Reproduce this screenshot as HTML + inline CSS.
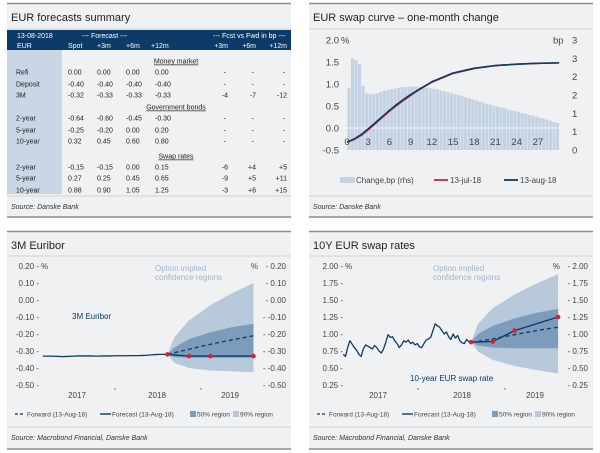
<!DOCTYPE html>
<html><head><meta charset="utf-8">
<style>
html,body{margin:0;padding:0;background:#fff;}
svg{display:block;font-family:"Liberation Sans",sans-serif;}
</style></head>
<body>
<svg id="root" width="600" height="453" viewBox="0 0 600 453" xmlns="http://www.w3.org/2000/svg">
<g>
<rect x="7" y="4" width="284" height="213" fill="#f0f1f3"/>
<rect x="309" y="4" width="284" height="213" fill="#f0f1f3"/>
<rect x="7" y="232" width="284" height="217" fill="#f0f1f3"/>
<rect x="309" y="232" width="284" height="217" fill="#f0f1f3"/>
<g stroke="#8a8d91" stroke-width="1.5">
<line x1="7" y1="3.5" x2="291" y2="3.5"/><line x1="7" y1="217" x2="291" y2="217"/>
<line x1="309" y1="3.5" x2="593" y2="3.5"/><line x1="309" y1="217" x2="593" y2="217"/>
<line x1="7" y1="231.5" x2="291" y2="231.5"/><line x1="7" y1="449" x2="291" y2="449"/>
<line x1="309" y1="231.5" x2="593" y2="231.5"/><line x1="309" y1="449" x2="593" y2="449"/>
</g>
<g stroke="#c4c7cb" stroke-width="0.8">
<line x1="7" y1="29" x2="291" y2="29"/><line x1="7" y1="196" x2="291" y2="196"/>
<line x1="309" y1="29" x2="593" y2="29"/><line x1="309" y1="196" x2="593" y2="196"/>
<line x1="7" y1="256" x2="291" y2="256"/><line x1="7" y1="427" x2="291" y2="427"/>
<line x1="309" y1="256" x2="593" y2="256"/><line x1="309" y1="427" x2="593" y2="427"/>
</g>
</g>
<g font-size="11" fill="#222">
<text x="11" y="21">EUR forecasts summary</text>
<text x="313" y="21">EUR swap curve – one-month change</text>
<text x="11" y="249">3M Euribor</text>
<text x="313" y="249">10Y EUR swap rates</text>
</g>
<g font-size="7" font-style="italic" fill="#333">
<text x="11" y="209">Source: Danske Bank</text>
<text x="313" y="209">Source: Danske Bank</text>
<text x="11" y="440">Source: Macrobond Financial, Danske Bank</text>
<text x="313" y="440">Source: Macrobond Financial, Danske Bank</text>
</g>
<g id="table"></g>
<g id="curve"></g>
<g id="eur3m"></g>
<g id="swap10"></g>
</svg>
<script>
const barTenors = [0.5,1,1.5,2,2.5,3,3.5,4,4.5,5,5.5,6,6.5,7,7.5,8,8.5,9,9.5,10,10.5,11,11.5,12,12.5,13,13.5,14,14.5,15,15.5,16,16.5,17,17.5,18,18.5,19,19.5,20,20.5,21,21.5,22,22.5,23,23.5,24,24.5,25,25.5,26,26.5,27,27.5,28,28.5,29,29.5,30];
const changeBp = [1.70,2.50,2.45,2.35,1.75,1.55,1.52,1.53,1.55,1.58,1.62,1.63,1.66,1.68,1.70,1.72,1.71,1.73,1.74,1.73,1.72,1.71,1.70,1.68,1.67,1.65,1.62,1.60,1.57,1.55,1.52,1.50,1.47,1.44,1.41,1.38,1.35,1.32,1.29,1.26,1.24,1.21,1.19,1.16,1.14,1.11,1.09,1.06,1.04,1.01,0.99,0.96,0.94,0.91,0.88,0.86,0.83,0.80,0.77,0.74];
const curveTenors = [0,1,2,3,4,5,6,7,8,9,10,12,15,18,21,24,27,30];
const curveAug = [-0.32,-0.25,-0.15,-0.02,0.12,0.26,0.40,0.53,0.65,0.76,0.86,1.05,1.25,1.36,1.42,1.45,1.47,1.48];
const curveJul = [-0.32,-0.26,-0.17,-0.04,0.10,0.24,0.38,0.51,0.63,0.74,0.85,1.04,1.24,1.35,1.42,1.45,1.47,1.48];
const curveLeftTicks = ["2.0","1.5","1.0","0.5","0.0","-0.5"];
const curveLeftVals = [2,1.5,1,0.5,0,-0.5];
const curveRightTicks = ["3","3","2","2","1","1","0"];
const curveRightVals = [3,2.5,2,1.5,1,0.5,0];
const curveXTicks = [0,3,6,9,12,15,18,21,24,27];

const eurHistStart = 2017.16, eurHistEnd = 2018.61;
const eurHist = [-0.33,-0.33,-0.33,-0.331,-0.332,-0.333,-0.332,-0.331,-0.33,-0.329,-0.329,-0.329,-0.329,-0.33,-0.33,-0.329,-0.329,-0.329,-0.328,-0.328,-0.328,-0.328,-0.327,-0.327,-0.327,-0.326,-0.325,-0.323,-0.321,-0.32,-0.32,-0.319];
const fanT = [2018.61,2018.69,2018.86,2019.11,2019.36,2019.61];
const eur90Top = [-0.32,-0.22,-0.12,-0.03,0.04,0.10];
const eur90Bot = [-0.32,-0.37,-0.40,-0.415,-0.42,-0.425];
const eur50Top = [-0.32,-0.28,-0.23,-0.19,-0.16,-0.14];
const eur50Bot = [-0.32,-0.335,-0.34,-0.34,-0.34,-0.34];
const eurFwd = [-0.32,-0.31,-0.29,-0.26,-0.235,-0.21];
const fcT = [2018.61,2018.86,2019.11,2019.61];
const eurFc = [-0.32,-0.33,-0.33,-0.33];
const eurTicks = ["0.20","0.10","0.00","-0.10","-0.20","-0.30","-0.40","-0.50"];
const eurTickVals = [0.2,0.1,0,-0.1,-0.2,-0.3,-0.4,-0.5];

const swapHistStart = 2017.14, swapHistEnd = 2018.61;
const swapHist = [0.70,0.67,0.80,0.90,0.85,0.80,0.76,0.70,0.67,0.78,0.84,0.82,0.80,0.78,0.83,0.80,0.75,0.72,0.78,0.88,0.99,0.95,0.96,0.90,0.86,0.80,0.84,0.90,0.88,0.91,0.86,0.88,0.84,0.86,0.81,0.80,0.86,0.91,0.93,0.95,1.05,1.15,1.12,1.10,1.05,1.00,1.03,0.96,0.92,1.00,0.94,0.98,0.90,0.87,0.86,0.92,0.89,0.88];
const sw90Top = [0.88,1.15,1.38,1.58,1.74,1.88];
const sw90Bot = [0.88,0.74,0.62,0.53,0.47,0.42];
const sw50Top = [0.88,1.00,1.12,1.23,1.31,1.37];
const sw50Bot = [0.88,0.83,0.80,0.79,0.79,0.79];
const swFwd = [0.88,0.89,0.93,0.99,1.05,1.10];
const swFc = [0.88,0.89,1.05,1.25];
const swTicks = ["2.00","1.75","1.50","1.25","1.00","0.75","0.50","0.25"];
const swTickVals = [2,1.75,1.5,1.25,1,0.75,0.5,0.25];

const tableRows = [
 {sec:"Money market"},
 {l:"Refi",v:["0.00","0.00","0.00","0.00"],f:["-","-","-"]},
 {l:"Deposit",v:["-0.40","-0.40","-0.40","-0.40"],f:["-","-","-"]},
 {l:"3M",v:["-0.32","-0.33","-0.33","-0.33"],f:["-4","-7","-12"]},
 {sec:"Government bonds"},
 {l:"2-year",v:["-0.64","-0.60","-0.45","-0.30"],f:["-","-","-"]},
 {l:"5-year",v:["-0.25","-0.20","0.00","0.20"],f:["-","-","-"]},
 {l:"10-year",v:["0.32","0.45","0.60","0.80"],f:["-","-","-"]},
 {sec:"Swap rates"},
 {l:"2-year",v:["-0.15","-0.15","0.00","0.15"],f:["-6","+4","+5"]},
 {l:"5-year",v:["0.27","0.25","0.45","0.65"],f:["-9","+5","+11"]},
 {l:"10-year",v:["0.88","0.90","1.05","1.25"],f:["-3","+6","+15"]}
];
const rowY = [61,72,84,95,107,118,130,141,156,167,178,190];

const NS="http://www.w3.org/2000/svg";
function mk(parent,tag,attrs,txt){const e=document.createElementNS(NS,tag);for(const k in attrs)e.setAttribute(k,attrs[k]);if(txt!==undefined)e.textContent=txt;parent.appendChild(e);return e;}

(function(){
 const g=document.getElementById('table');
 const hb=mk(g,'rect',{x:7,y:30,width:284,height:20,fill:'#0b3b66'});
 
 
 mk(g,'rect',{x:7,y:50,width:55,height:144,fill:'#c9d6e4'});
 const hs={fill:'#fff','font-size':'7'};
 mk(g,'text',Object.assign({x:17,y:38},hs),'13-08-2018');
 mk(g,'text',Object.assign({x:82,y:38},hs),'--- Forecast ---');
 mk(g,'text',Object.assign({x:213,y:38},hs),'--- Fcst vs Fwd in bp ---');
 mk(g,'text',Object.assign({x:17,y:48},hs),'EUR');
 const hcols=[["Spot",68],["+3m",97],["+6m",126],["+12m",151]];
 hcols.forEach(c=>mk(g,'text',Object.assign({x:c[1],y:48},hs),c[0]));
 const fx=[228,256,287];
 ["+3m","+6m","+12m"].forEach((c,i)=>mk(g,'text',Object.assign({x:fx[i],y:48,'text-anchor':'end'},hs),c));
 const vx=[68,97,126,155];
 tableRows.forEach((r,i)=>{
  const y=rowY[i]+2.5;
  if(r.sec){const t=mk(g,'text',{x:176,y:y,'font-size':'7',fill:'#222','text-anchor':'middle','text-decoration':'underline'},r.sec);
   
   return;}
  const row=mk(g,'g',{});
  
  
  mk(row,'text',{x:16,y:y,'font-size':'7',fill:'#222'},r.l);
  r.v.forEach((v,j)=>mk(row,'text',{x:vx[j],y:y,'font-size':'7',fill:'#222'},v));
  r.f.forEach((v,j)=>mk(row,'text',{x:fx[j]-(v==='-'?2:0),y:y,'font-size':'7',fill:'#222','text-anchor':'end'},v));
 });
})();

(function(){
 const g=document.getElementById('curve');
 const X=t=>347+t*7.07, YL=v=>128-44*v, YR=v=>150-36.67*v;
 for(let i=0;i<barTenors.length;i++){
  const b=mk(g,'rect',{x:X(barTenors[i])-3.1,y:YR(changeBp[i]),width:3.1,height:150-YR(changeBp[i]),fill:'#c4d3e3'});
  
  
 }
 mk(g,'line',{x1:345,y1:128,x2:560,y2:128,stroke:'#fff','stroke-width':0.8});
 curveLeftVals.forEach((v,i)=>{const t=mk(g,'text',{x:339,y:YL(v)+3.5,'font-size':'9.5',fill:'#444','text-anchor':'end'},curveLeftTicks[i]);
  });
 mk(g,'text',{x:341,y:YL(2)+3.5,'font-size':'9.5',fill:'#444'},'%');
 curveRightVals.forEach((v,i)=>{const t=mk(g,'text',{x:572,y:YR(v)+3.5,'font-size':'9.5',fill:'#444','text-anchor':'start'},curveRightTicks[i]);
  });
 mk(g,'text',{x:553,y:YR(3)+3.5,'font-size':'9.5',fill:'#444'},'bp');
 curveXTicks.forEach(v=>{const t=mk(g,'text',{x:X(v),y:145,'font-size':'9.5',fill:'#444','text-anchor':'middle'},String(v));
  });
 const pj=curveTenors.map((t,i)=>X(t)+','+YL(curveJul[i])).join(' ');
 const pa=curveTenors.map((t,i)=>X(t)+','+YL(curveAug[i])).join(' ');
 const l1=mk(g,'polyline',{points:pj,fill:'none',stroke:'#d2232a','stroke-width':1.6,'stroke-linejoin':'round'});
 
 const l2=mk(g,'polyline',{points:pa,fill:'none',stroke:'#0b3b66','stroke-width':1.6,'stroke-linejoin':'round'});
 
 const lg=mk(g,'g',{});
 mk(lg,'rect',{x:340,y:177,width:15,height:6,fill:'#c4d3e3'});
 mk(lg,'text',{x:356,y:183,'font-size':'8',fill:'#444'},'Change,bp (rhs)');
 mk(lg,'line',{x1:434,y1:180,x2:448,y2:180,stroke:'#d2232a','stroke-width':1.8});
 mk(lg,'text',{x:450,y:183,'font-size':'8',fill:'#444'},'13-jul-18');
 mk(lg,'line',{x1:504,y1:180,x2:518,y2:180,stroke:'#0b3b66','stroke-width':1.8});
 mk(lg,'text',{x:520,y:183,'font-size':'8',fill:'#444'},'13-aug-18');
})();

function fan(gid,cfg){
 const g=document.getElementById(gid);
 const X=t=>cfg.x0+cfg.xs*(t-2018), Y=cfg.Y;
 cfg.tickVals.forEach(v=>mk(g,'line',{x1:cfg.px0,y1:Y(v),x2:cfg.px1,y2:Y(v),stroke:'#fff','stroke-width':0.6,'stroke-dasharray':'1,1'}));
 function band(top,bot,color,name){
  const pts=fanT.map((t,i)=>X(t)+','+Y(top[i])).concat(fanT.slice().reverse().map((t,k)=>X(t)+','+Y(bot[fanT.length-1-k])));
  const p=mk(g,'polygon',{points:pts.join(' '),fill:color});
  
 }
 band(cfg.t90,cfg.b90,'#b8c9dc','region-90');
 band(cfg.t50,cfg.b50,'#7d9bbb','region-50');
 cfg.tickVals.forEach((v,i)=>{
  const a=mk(g,'text',{x:cfg.lx,y:Y(v)+3,'font-size':'8',fill:'#444','text-anchor':'end'},cfg.ticks[i]+' -');
  
  const b=mk(g,'text',{x:cfg.rx,y:Y(v)+3,'font-size':'8',fill:'#444','text-anchor':'end'},'- '+cfg.ticks[i]);
  
 });
 mk(g,'text',{x:cfg.lx+2,y:Y(cfg.tickVals[0])+3,'font-size':'8',fill:'#444'},'%');
 mk(g,'text',{x:cfg.rx-28,y:Y(cfg.tickVals[0])+3,'font-size':'8',fill:'#444','text-anchor':'end'},'%');
 const h=cfg.hist, n=h.length;
 const hp=h.map((v,i)=>X(cfg.hs+(cfg.he-cfg.hs)*i/(n-1))+','+Y(v)).join(' ');
 const hl=mk(g,'polyline',{points:hp,fill:'none',stroke:'#0b3b66','stroke-width':1.3,'stroke-linejoin':'round'});
 
 const fw=mk(g,'polyline',{points:fanT.map((t,i)=>X(t)+','+Y(cfg.fwd[i])).join(' '),fill:'none',stroke:'#0b3b66','stroke-width':1.3,'stroke-dasharray':'4,3'});
 
 const fc=mk(g,'polyline',{points:fcT.map((t,i)=>X(t)+','+Y(cfg.fc[i])).join(' '),fill:'none',stroke:'#0b3b66','stroke-width':1.4});
 
 fcT.forEach((t,i)=>{const c=mk(g,'circle',{cx:X(t),cy:Y(cfg.fc[i]),r:2.3,fill:'#d2232a'});
  });
 [[2017,cfg.yl[0]],[2018,cfg.yl[1]],[2019,cfg.yl[2]]].forEach(a=>{const t=mk(g,'text',{x:a[1],y:cfg.yearY,'font-size':'8',fill:'#444','text-anchor':'middle'},String(a[0]));
  });
 [2018,2019].forEach(yr=>mk(g,'line',{x1:X(yr),y1:cfg.yearY-10,x2:X(yr),y2:cfg.yearY-8,stroke:'#555','stroke-width':0.8}));
 mk(g,'text',{x:cfg.optX,y:271,'font-size':'8',fill:'#9fb6cf'},'Option implied');
 mk(g,'text',{x:cfg.optX,y:280,'font-size':'8',fill:'#9fb6cf'},'confidence regions');
 mk(g,'text',{x:cfg.nameX,y:cfg.nameY,'font-size':'8',fill:'#0b3b66'},cfg.name);
 const o=cfg.legX, ly=414;
 const lg=mk(g,'g',{});
 mk(lg,'line',{x1:o,y1:ly,x2:o+10,y2:ly,stroke:'#0b3b66','stroke-width':1.2,'stroke-dasharray':'3,2'});
 mk(lg,'text',{x:o+12,y:ly+2.5,'font-size':'6.5',fill:'#444'},'Forward (13-Aug-18)');
 mk(lg,'line',{x1:o+85,y1:ly,x2:o+96,y2:ly,stroke:'#0b3b66','stroke-width':1.4});
 mk(lg,'text',{x:o+97,y:ly+2.5,'font-size':'6.5',fill:'#444'},'Forecast (13-Aug-18)');
 mk(lg,'rect',{x:o+175,y:ly-3,width:6,height:6,fill:'#7d9bbb'});
 mk(lg,'text',{x:o+182,y:ly+2.5,'font-size':'6.5',fill:'#444'},'50% region');
 mk(lg,'rect',{x:o+218,y:ly-3,width:6,height:6,fill:'#b8c9dc'});
 mk(lg,'text',{x:o+225,y:ly+2.5,'font-size':'6.5',fill:'#444'},'90% region');
}
fan('eur3m',{x0:115,xs:86,Y:v=>300-170*v,px0:42,px1:258,tickVals:eurTickVals,ticks:eurTicks,lx:39,rx:286,
 hist:eurHist,hs:eurHistStart,he:eurHistEnd,t90:eur90Top,b90:eur90Bot,t50:eur50Top,b50:eur50Bot,fwd:eurFwd,fc:eurFc,
 yl:[77,157,230],yearY:398,optX:155,name:'3M Euribor',nameX:72,nameY:319,legX:15});
fan('swap10',{x0:418,xs:87,Y:v=>334-68*(v-1),px0:342,px1:560,tickVals:swTickVals,ticks:swTicks,lx:343,rx:588,
 hist:swapHist,hs:swapHistStart,he:swapHistEnd,t90:sw90Top,b90:sw90Bot,t50:sw50Top,b50:sw50Bot,fwd:swFwd,fc:swFc,
 yl:[378,462,535],yearY:398,optX:433,name:'10-year EUR swap rate',nameX:410,nameY:381,legX:317});
</script>
</body></html>
